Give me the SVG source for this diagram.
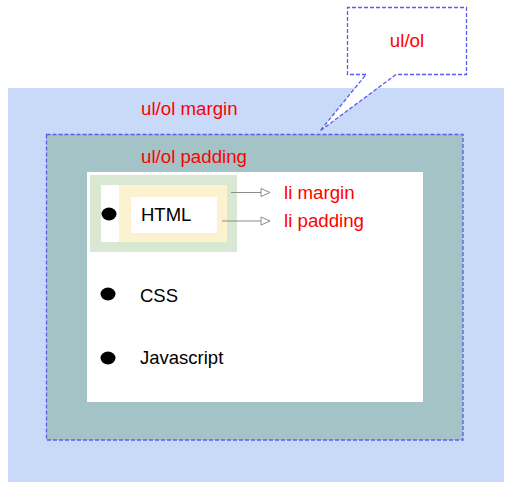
<svg xmlns="http://www.w3.org/2000/svg" width="510" height="490" viewBox="0 0 510 490">
<style>
.red{font-family:"Liberation Sans",Arial,sans-serif;font-size:18.7px;fill:#ff0000}
.blk{font-family:"Liberation Sans",Arial,sans-serif;font-size:18.5px;fill:#000}
.dash{fill:none;stroke:#5b5bee;stroke-width:1.3;stroke-dasharray:4,2}
.conn{stroke:#8c8c8c;stroke-width:1.2;fill:none}
</style>
<defs>
<marker id="arr" markerWidth="11" markerHeight="10" refX="10" refY="5" orient="auto" markerUnits="userSpaceOnUse">
<path d="M1,1 L10,5 L1,9 Z" fill="#fff" stroke="#8c8c8c" stroke-width="1"/>
</marker>
</defs>
<rect width="510" height="490" fill="#fff"/>
<g id="ul-margin">
<rect x="8" y="88" width="496" height="394" fill="#c9daf8"/>
<text class="red" x="141" y="115">ul/ol margin</text>
</g>
<g id="ul-padding">
<rect x="46.5" y="134.5" width="416.5" height="305.5" class="dash" style="fill:#a3c3c6"/>
<text class="red" x="141" y="163">ul/ol padding</text>
</g>
<g id="ul-content">
<rect x="87" y="172" width="336" height="230" fill="#fff"/>
</g>
<g id="li-html">
<rect x="90" y="175" width="147" height="77" fill="#d9e8d3"/>
<rect x="101" y="185" width="126" height="57" fill="#fdf2d0"/>
<rect x="101" y="185" width="18" height="57" fill="#fff"/>
<rect x="131" y="197" width="86" height="36" fill="#fff"/>
<ellipse cx="109" cy="214" rx="7.5" ry="6.5" fill="#000"/>
<text class="blk" x="141" y="221">HTML</text>
</g>
<g id="li-css">
<ellipse cx="108" cy="294" rx="7.5" ry="6.5" fill="#000"/>
<text class="blk" x="140" y="302">CSS</text>
</g>
<g id="li-js">
<ellipse cx="108" cy="358" rx="7.5" ry="6.5" fill="#000"/>
<text class="blk" x="140" y="364">Javascript</text>
</g>
<g id="label-li-margin">
<text class="red" x="284" y="199">li margin</text>
</g>
<g id="label-li-padding">
<text class="red" x="284" y="227">li padding</text>
</g>
<g id="callout">
<path d="M366,74.5 L347.5,74.5 L347.5,7.5 L466.5,7.5 L466.5,74.5 L396,74.5 L320,131 Z" fill="#fff"/>
<path d="M366,74.5 L347.5,74.5 L347.5,7.5 L466.5,7.5 L466.5,74.5 L396,74.5 L320,131 Z" class="dash"/>
<text class="red" x="407" y="47" text-anchor="middle">ul/ol</text>
</g>
<g id="connectors">
<line class="conn" x1="231" y1="192.5" x2="270" y2="192.5" marker-end="url(#arr)"/>
<line class="conn" x1="222" y1="221" x2="270" y2="221" marker-end="url(#arr)"/>
</g>
</svg>
